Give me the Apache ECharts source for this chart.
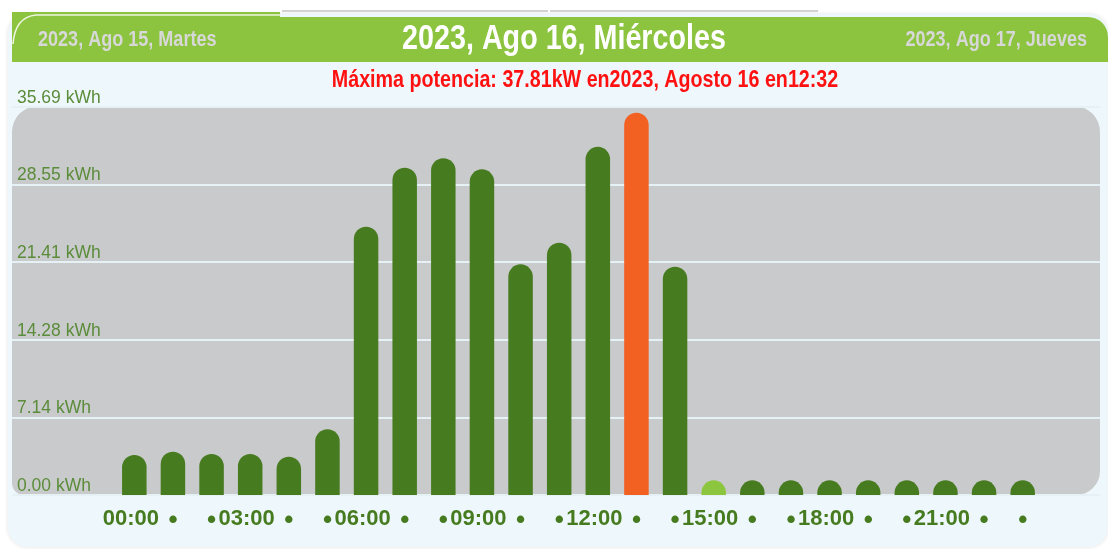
<!DOCTYPE html>
<html>
<head>
<meta charset="utf-8">
<title>Producción diaria</title>
<script src="https://cdn.jsdelivr.net/npm/echarts@6/dist/echarts.min.js"></script>
<style>
  html, body { margin: 0; padding: 0; background: #fff; }
  #chart { width: 1108px; height: 549px; }
</style>
</head>
<body>
<div id="chart"></div>
<script>
// hourly energy, 2023-08-16
const hours = ['00:00', '01:00', '02:00', '03:00', '04:00', '05:00', '06:00', '07:00',
  '08:00', '09:00', '10:00', '11:00', '12:00', '13:00', '14:00', '15:00',
  '16:00', '17:00', '18:00', '19:00', '20:00', '21:00', '22:00', '23:00'];
const energy = [3.68, 3.98, 3.77, 3.77, 3.52, 6.04, 24.66, 30.08,
  30.95, 29.93, 21.2, 23.19, 32.0, 35.14, 20.98, 1.35,
  1.35, 1.35, 1.35, 1.35, 1.35, 1.35, 1.35, 1.35];
const yTickLabels = ['0.00 kWh', '7.14 kWh', '14.28 kWh', '21.41 kWh', '28.55 kWh', '35.69 kWh'];
const yMax = 35.69;
const peakHour = 13;
const currentHour = 15;

const titleText = '2023, Ago 16, Miércoles';
const prevDay = '2023, Ago 15, Martes';
const nextDay = '2023, Ago 17, Jueves';
const peakText = 'Máxima potencia: 37.81kW en2023, Agosto 16 en12:32';

// no narrow font installed -> header texts get squeezed with scaleX
const FONT = '"Liberation Sans", Arial, sans-serif';
const NARROW = 0.82;
const DARK_GREEN = '#477b1f';
const yStep = yMax / 5;

const chart = echarts.init(document.getElementById('chart'));

const option = {
  animation: false,
  graphic: {
    elements: [
      // panel
      { type: 'rect', z: -20, shape: { x: 8, y: 14, width: 1100, height: 533, r: 20 },
        style: { fill: '#eef8fc', shadowBlur: 4, shadowColor: 'rgba(0,0,0,0.12)' } },
      // tabs on top
      { type: 'line', z: -19, shape: { x1: 282, y1: 11, x2: 548, y2: 11 }, style: { stroke: '#d2d2d2', lineWidth: 2 } },
      { type: 'line', z: -19, shape: { x1: 550, y1: 11, x2: 818, y2: 11 }, style: { stroke: '#d2d2d2', lineWidth: 2 } },
      // green header
      { type: 'rect', z: -18, shape: { x: 12, y: 12, width: 268, height: 50 }, style: { fill: '#8cc43f' } },
      { type: 'rect', z: -18, shape: { x: 12, y: 17, width: 1096, height: 45, r: [0, 20, 0, 0] }, style: { fill: '#8cc43f' } },
      { type: 'bezierCurve', z: -17, shape: { x1: 13, y1: 44, x2: 36, y2: 15, cpx1: 15, cpy1: 17 },
        style: { stroke: 'rgba(255,255,255,0.85)', lineWidth: 1.5, fill: null } },
      { type: 'line', z: -17, shape: { x1: 36, y1: 15, x2: 280, y2: 15 }, style: { stroke: 'rgba(255,255,255,0.85)', lineWidth: 1.5 } },
      // grey plot box
      { type: 'rect', z: -16, shape: { x: 12, y: 106, width: 1088, height: 389, r: [26, 26, 24, 12] },
        style: { fill: '#c9cacc' } },
      // header texts
      { type: 'text', z: 10, x: 564, y: 39, scaleX: NARROW,
        style: { text: titleText, align: 'center', verticalAlign: 'middle', fill: '#ffffff',
          fontSize: 35, fontWeight: 'bold', fontFamily: FONT } },
      { type: 'text', z: 10, x: 38, y: 40, scaleX: NARROW,
        style: { text: prevDay, align: 'left', verticalAlign: 'middle', fill: '#d8d8d8',
          fontSize: 22, fontWeight: 'bold', fontFamily: FONT } },
      { type: 'text', z: 10, x: 1087, y: 40, scaleX: NARROW,
        style: { text: nextDay, align: 'right', verticalAlign: 'middle', fill: '#d8d8d8',
          fontSize: 22, fontWeight: 'bold', fontFamily: FONT } },
      { type: 'text', z: 10, x: 585, y: 80, scaleX: NARROW,
        style: { text: peakText, align: 'center', verticalAlign: 'middle', fill: '#ff1111',
          fontSize: 24, fontWeight: 'bold', fontFamily: FONT } }
    ]
  },
  grid: [
    { left: 115, right: 66, top: 106.7, bottom: 54 },
    { left: 12, right: 8, top: 106.7, bottom: 54 }
  ],
  xAxis: [
    {
      type: 'category',
      gridIndex: 0,
      data: hours,
      axisLine: { show: false },
      axisTick: { show: false },
      axisLabel: {
        interval: 0,
        margin: 13,
        color: DARK_GREEN,
        fontWeight: 'bold',
        fontFamily: FONT,
        formatter: (v, i) => (i % 3 === 0 ? '{t|' + v + '}' : '{d|•}'),
        rich: {
          t: { fontSize: 22, fontWeight: 'bold', fontFamily: FONT, color: DARK_GREEN, padding: [0, 7, 0, 0] },
          d: { fontSize: 26, fontWeight: 'bold', fontFamily: FONT, color: DARK_GREEN, padding: [0, 0, 2, 0] }
        }
      }
    },
    { type: 'value', gridIndex: 1, show: false, min: 0, max: 1 }
  ],
  yAxis: [
    { type: 'value', gridIndex: 0, show: false, min: 0, max: yMax, interval: yStep },
    {
      type: 'value',
      gridIndex: 1,
      min: 0,
      max: yMax,
      interval: yStep,
      axisLine: { show: false },
      axisTick: { show: false },
      splitLine: { show: true, lineStyle: { color: '#e6f1f6', width: 2 } },
      axisLabel: {
        inside: true,
        margin: 5,
        verticalAlign: 'bottom',
        color: '#5b8c3a',
        fontSize: 17.5,
        fontFamily: FONT,
        formatter: (v) => yTickLabels[Math.round(v / yStep)]
      }
    }
  ],
  series: [{
    type: 'bar',
    xAxisIndex: 0,
    yAxisIndex: 0,
    data: energy,
    barWidth: 24.5,
    itemStyle: {
      borderRadius: [12.25, 12.25, 0, 0],
      color: (p) => p.dataIndex === peakHour ? '#f26122'
        : p.dataIndex === currentHour ? '#8cc63f' : DARK_GREEN
    }
  }]
};

chart.setOption(option);
window.onresize = chart.resize;
</script>
</body>
</html>
